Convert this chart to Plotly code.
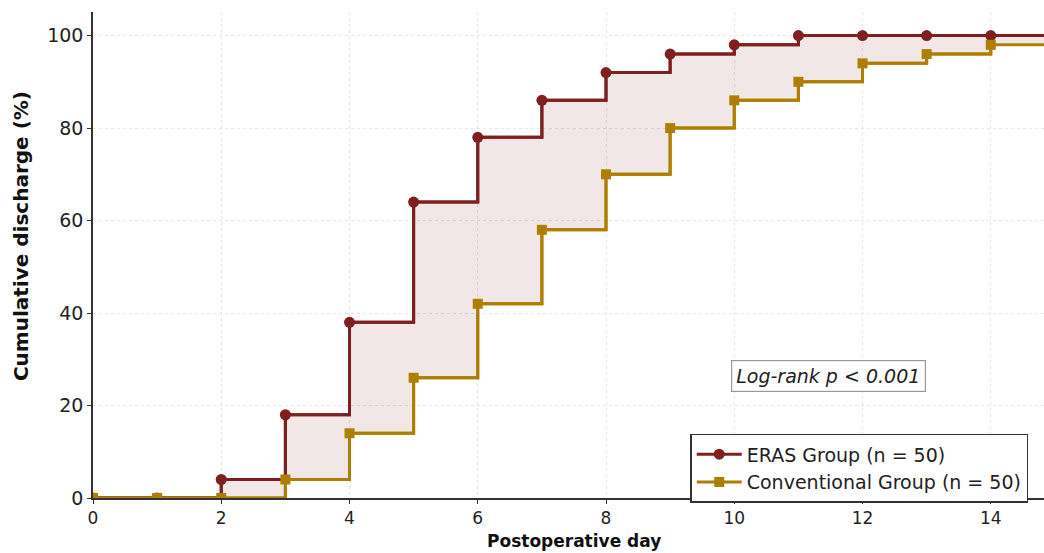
import plotly.graph_objects as go

days = [0, 1, 2, 3, 4, 5, 6, 7, 8, 9, 10, 11, 12, 13, 14, 15]
eras = [0, 0, 4, 18, 38, 64, 78, 86, 92, 96, 98, 100, 100, 100, 100, 100]
conv = [0, 0, 0, 4, 14, 26, 42, 58, 70, 80, 86, 90, 94, 96, 98, 98]
marker_days = days[:15]
eras_names = "ERAS Group (n = 50)"
conv_names = "Conventional Group (n = 50)"

RED = "#7f1f1f"
GOLD = "#ad7f00"
FONT = "DejaVu Sans"

fig = go.Figure()
# shaded area between curves
fig.add_trace(go.Scatter(x=days, y=eras, mode="lines", line=dict(width=0, shape="hv"),
                         showlegend=False, hoverinfo="skip"))
fig.add_trace(go.Scatter(x=days, y=conv, mode="lines", line=dict(width=0, shape="hv"),
                         fill="tonexty", fillcolor="rgba(128,40,40,0.11)",
                         showlegend=False, hoverinfo="skip"))
# step lines
fig.add_trace(go.Scatter(x=days, y=eras, mode="lines", line=dict(color=RED, width=3, shape="hv"),
                         showlegend=False, hoverinfo="skip"))
fig.add_trace(go.Scatter(x=days, y=conv, mode="lines", line=dict(color=GOLD, width=3, shape="hv"),
                         showlegend=False, hoverinfo="skip"))
# markers
fig.add_trace(go.Scatter(x=marker_days, y=eras[:15], mode="lines+markers", name=eras_names,
                         line=dict(color=RED, width=3, shape="hv"),
                         marker=dict(symbol="circle", size=11, color=RED)))
fig.add_trace(go.Scatter(x=marker_days, y=conv[:15], mode="lines+markers", name=conv_names,
                         line=dict(color=GOLD, width=3, shape="hv"),
                         marker=dict(symbol="square", size=10, color=GOLD)))

fig.add_annotation(x=11.47, y=26.3, xref="x", yref="y", text="<i>Log-rank p < 0.001</i>",
                   showarrow=False, font=dict(family=FONT, size=19, color="#222"),
                   bordercolor="#999", borderwidth=1.2, borderpad=4, bgcolor="white")

# axis titles
fig.add_annotation(x=0.5053, y=-0.111, xref="paper", yref="paper", text="<b>Postoperative day</b>",
                   showarrow=False, xanchor="center", yanchor="bottom", borderpad=0,
                   font=dict(family=FONT, size=17, color="#111"))
fig.add_annotation(x=-0.0757, y=0.539, xref="paper", yref="paper", text="<b>Cumulative discharge (%)</b>",
                   showarrow=False, xanchor="center", yanchor="middle", textangle=-90,
                   font=dict(family=FONT, size=20, color="#111"))

axis_common = dict(showline=True, linecolor="#333", linewidth=1.5, ticks="outside", ticklen=4,
                   tickcolor="#333", tickwidth=1.2, showgrid=True, gridcolor="#e6e6e6",
                   griddash="dot", gridwidth=1, zeroline=False)

fig.update_layout(
    width=1044, height=553,
    margin=dict(l=93, r=0, t=12, b=55),
    plot_bgcolor="white", paper_bgcolor="white",
    font=dict(family=FONT),
    xaxis=dict(range=[0, 14.83], tickvals=[0, 2, 4, 6, 8, 10, 12, 14],
               tickfont=dict(family=FONT, size=17, color="#222"), **axis_common),
    yaxis=dict(range=[0, 105.1], tickvals=[0, 20, 40, 60, 80, 100],
               tickfont=dict(family=FONT, size=19, color="#222"), **axis_common),
    legend=dict(x=0.628, y=0.132, xanchor="left", yanchor="top", bgcolor="white",
                bordercolor="#333", borderwidth=1.5, font=dict(family=FONT, size=19, color="#222"),
                tracegroupgap=0, itemwidth=45, traceorder="normal"),
)

fig.write_html("out.html")
